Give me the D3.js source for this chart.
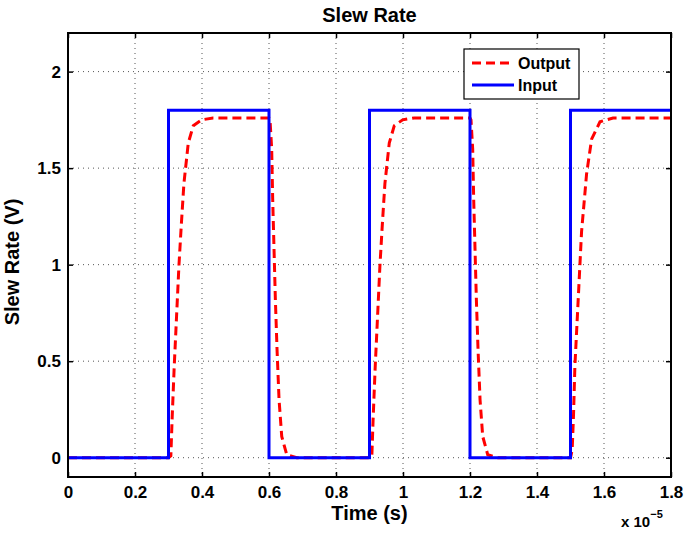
<!DOCTYPE html>
<html>
<head>
<meta charset="utf-8">
<script src="https://cdn.jsdelivr.net/npm/d3@7"></script>
<style>
  body { margin: 0; background: #fff; }
  text { font-family: "Liberation Sans", Arial, Helvetica, sans-serif; font-weight: bold; }
</style>
</head>
<body>
<div id="chart"></div>
<script>
// time in units of 1e-5 s
var inputTime  = [0, 0.3, 0.3, 0.6, 0.6, 0.9, 0.9, 1.2, 1.2, 1.5, 1.5, 1.8];
var inputValue = [0, 0, 1.8, 1.8, 0, 0, 1.8, 1.8, 0, 0, 1.8, 1.8];

var outputTime = [0, 0.3, 0.307, 0.311, 0.317, 0.324, 0.331, 0.338, 0.346, 0.359, 0.374, 0.399, 0.433,
  0.6, 0.603, 0.608, 0.611, 0.615, 0.619, 0.624, 0.630, 0.638, 0.653, 0.683,
  0.9, 0.907, 0.911, 0.917, 0.924, 0.931, 0.938, 0.946, 0.959, 0.974, 0.999, 1.033,
  1.2, 1.203, 1.208, 1.211, 1.215, 1.219, 1.224, 1.230, 1.238, 1.253, 1.283,
  1.5, 1.505, 1.509, 1.513, 1.523, 1.533, 1.548, 1.563, 1.588, 1.627, 1.8];
var outputValue = [0, 0, 0.01, 0.21, 0.47, 0.73, 0.99, 1.2, 1.42, 1.63, 1.72, 1.75, 1.76,
  1.76, 1.75, 1.6, 1.34, 1.08, 0.82, 0.56, 0.3, 0.11, 0.015, 0,
  0, 0.01, 0.21, 0.47, 0.73, 0.99, 1.2, 1.42, 1.63, 1.72, 1.75, 1.76,
  1.76, 1.75, 1.6, 1.34, 1.08, 0.82, 0.56, 0.3, 0.11, 0.015, 0,
  0, 0.04, 0.22, 0.47, 0.82, 1.17, 1.47, 1.65, 1.74, 1.76, 1.76];

var xTicks = [0, 0.2, 0.4, 0.6, 0.8, 1, 1.2, 1.4, 1.6, 1.8];
var yTicks = [0, 0.5, 1, 1.5, 2];

var svgWidth = 685, svgHeight = 535;
var margin = { top: 33, right: 14, bottom: 58, left: 68 };
var width = svgWidth - margin.left - margin.right;
var height = svgHeight - margin.top - margin.bottom;

var svg = d3.select('#chart').append("svg")
  .attr("width", svgWidth)
  .attr("height", svgHeight);

var g = svg.append("g")
  .attr("transform", "translate(" + margin.left + "," + margin.top + ")");

var x = d3.scaleLinear().domain([0, 1.8]).range([0, width]);
var y = d3.scaleLinear().domain([-0.1, 2.2]).range([height, 0]);

// grid
g.append("g").selectAll("line")
  .data(xTicks.slice(1, -1))
  .enter().append("line")
  .attr("x1", function(d) { return x(d); })
  .attr("x2", function(d) { return x(d); })
  .attr("y1", 0).attr("y2", height)
  .attr("stroke", "#555").attr("stroke-width", 1)
  .attr("stroke-dasharray", "1,4");
g.append("g").selectAll("line")
  .data(yTicks)
  .enter().append("line")
  .attr("y1", function(d) { return y(d); })
  .attr("y2", function(d) { return y(d); })
  .attr("x1", 0).attr("x2", width)
  .attr("stroke", "#555").attr("stroke-width", 1)
  .attr("stroke-dasharray", "1,4");

// axes with inward ticks on all sides
function styleAxis(sel) {
  sel.select(".domain").remove();
  sel.selectAll(".tick line").attr("stroke", "#000").attr("stroke-width", 1.5);
  sel.selectAll("text").attr("font-size", 17).attr("fill", "#000")
    .style("font-family", '"Liberation Sans", Arial, sans-serif').style("font-weight", "bold");
}
g.append("g")
  .attr("transform", "translate(0," + height + ")")
  .call(d3.axisBottom(x).tickValues(xTicks).tickFormat(d3.format("")).tickSizeInner(-5).tickPadding(9))
  .call(styleAxis);
g.append("g")
  .call(d3.axisTop(x).tickValues(xTicks).tickSizeInner(-5).tickFormat(""))
  .call(styleAxis);
g.append("g")
  .call(d3.axisLeft(y).tickValues(yTicks).tickFormat(d3.format("")).tickSizeInner(-5).tickPadding(7))
  .call(styleAxis);
g.append("g")
  .attr("transform", "translate(" + width + ",0)")
  .call(d3.axisRight(y).tickValues(yTicks).tickSizeInner(-5).tickFormat(""))
  .call(styleAxis);

// clip
svg.append("defs").append("clipPath").attr("id", "clip")
  .append("rect").attr("width", width).attr("height", height);

var line = d3.line()
  .x(function(d) { return x(d.t); })
  .y(function(d) { return y(d.v); });

var outputData = outputTime.map(function(t, i) { return { t: t, v: outputValue[i] }; });
var inputData = inputTime.map(function(t, i) { return { t: t, v: inputValue[i] }; });

var plot = g.append("g").attr("clip-path", "url(#clip)");
plot.append("path")
  .datum(outputData)
  .attr("fill", "none")
  .attr("stroke", "#ff0000")
  .attr("stroke-width", 3)
  .attr("stroke-dasharray", "9,5")
  .attr("d", line);
plot.append("path")
  .datum(inputData)
  .attr("fill", "none")
  .attr("stroke", "#0000ff")
  .attr("stroke-width", 3)
  .attr("d", line);

// box
g.append("rect")
  .attr("width", width).attr("height", height)
  .attr("fill", "none").attr("stroke", "#000").attr("stroke-width", 2);

// legend
var legend = svg.append("g").attr("transform", "translate(464,49)");
legend.append("rect").attr("width", 115).attr("height", 50)
  .attr("fill", "#fff").attr("stroke", "#000").attr("stroke-width", 1.2);
var legendItems = [
  { name: "Output", color: "#ff0000", dash: "9,5" },
  { name: "Input", color: "#0000ff", dash: null }
];
legendItems.forEach(function(d, i) {
  var yy = 14 + i * 22;
  legend.append("line")
    .attr("x1", 8).attr("x2", 50).attr("y1", yy).attr("y2", yy)
    .attr("stroke", d.color).attr("stroke-width", 3)
    .attr("stroke-dasharray", d.dash);
  legend.append("text")
    .attr("x", 54).attr("y", yy + 6)
    .attr("font-size", 16)
    .text(d.name);
});

// title and labels
svg.append("text")
  .attr("x", margin.left + width / 2).attr("y", 22)
  .attr("text-anchor", "middle").attr("font-size", 20)
  .text("Slew Rate");
svg.append("text")
  .attr("x", margin.left + width / 2).attr("y", 520)
  .attr("text-anchor", "middle").attr("font-size", 20)
  .text("Time (s)");
svg.append("text")
  .attr("transform", "translate(19," + (margin.top + height / 2 + 7) + ") rotate(-90)")
  .attr("text-anchor", "middle").attr("font-size", 20)
  .text("Slew Rate (V)");
var expo = svg.append("text")
  .attr("x", 621).attr("y", 527)
  .attr("font-size", 15);
expo.append("tspan").text("x 10");
expo.append("tspan").attr("dy", -9).attr("font-size", 11).text("\u22125");
</script>
</body>
</html>
